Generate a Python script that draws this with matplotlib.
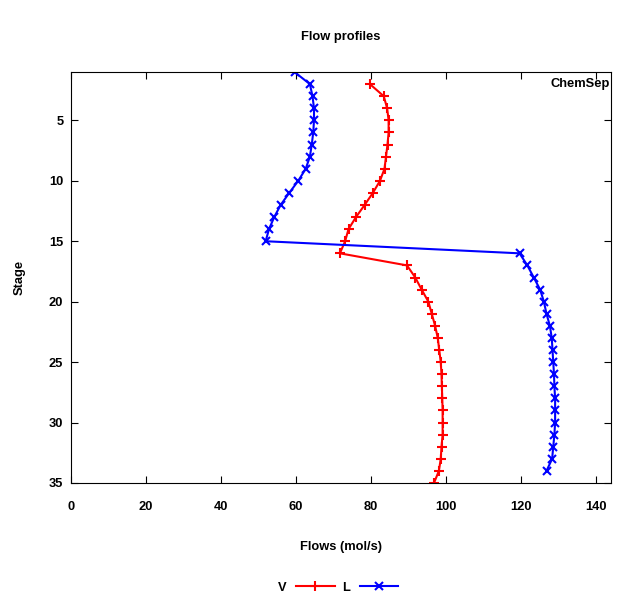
import matplotlib
matplotlib.use("Agg")
import matplotlib.pyplot as plt
from matplotlib.lines import Line2D

matplotlib.rc("font", family="Liberation Sans", weight="bold", size=9.3)
matplotlib.rc("axes", titleweight="bold", labelweight="bold",
              titlesize=9.3, labelsize=9.3)

# Vapour flow, stages 2..35
v_stages = list(range(2, 36))
v_flow = [79.7, 83.4, 84.3, 84.7, 84.7, 84.4, 84.0, 83.6, 82.4, 80.5,
          78.3, 76.0, 74.0, 73.1, 71.7, 89.6, 91.8, 93.5, 95.3, 96.2,
          97.1, 97.8, 98.2, 98.6, 98.8, 98.9, 99.0, 99.1, 99.1, 99.1,
          98.8, 98.6, 98.1, 96.8]

# Liquid flow, stages 1..34
l_stages = list(range(1, 35))
l_flow = [59.6, 63.7, 64.4, 64.8, 64.8, 64.6, 64.2, 63.7, 62.6, 60.6,
          58.2, 55.9, 54.2, 52.8, 51.9, 119.6, 121.7, 123.4, 125.1, 126.1,
          126.8, 127.7, 128.2, 128.4, 128.6, 128.8, 128.9, 129.1, 129.1, 129.1,
          128.9, 128.6, 128.3, 126.8]

x_ticks = [0, 20, 40, 60, 80, 100, 120, 140]
y_ticks = [5, 10, 15, 20, 25, 30, 35]


def draw():
    fig = plt.figure(figsize=(6.39, 6.05), dpi=100)
    ax = fig.add_axes([71 / 639, 1 - 483 / 605, 540 / 639, 411 / 605])

    ax.plot(v_flow, v_stages, color="#ff0000", lw=1.5, marker="+",
            ms=7, mew=1.5)
    ax.plot(l_flow, l_stages, color="#0000ff", lw=1.5, marker="x",
            ms=6, mew=1.5)

    ax.set_xlim(0, 144)
    ax.set_ylim(35, 1)
    ax.set_xticks(x_ticks)
    ax.set_yticks(y_ticks)
    ax.tick_params(direction="in", length=5, width=0.8, top=True,
                   right=True)
    ax.tick_params(axis="x", pad=13)
    ax.tick_params(axis="y", pad=5.5)
    for sp in ax.spines.values():
        sp.set_linewidth(0.8)

    ax.set_xlabel("Flows (mol/s)", labelpad=20)
    ax.set_ylabel("Stage", labelpad=17)
    ax.set_title("Flow profiles", pad=23)
    ax.text(0.997, 0.985, "ChemSep", transform=ax.transAxes,
            ha="right", va="top")

    handles = [
        Line2D([], [], color="#ff0000", lw=1.5, marker="+", ms=7, mew=1.5,
               label="V"),
        Line2D([], [], color="#0000ff", lw=1.5, marker="x", ms=6, mew=1.5,
               label="L"),
    ]
    fig.legend(handles=handles, loc="center", ncol=2, markerfirst=False,
               frameon=False, bbox_to_anchor=(0.529, 1 - 588 / 605),
               handlelength=3.0, columnspacing=0.55, handletextpad=0.75)

    fig.savefig("out.png", dpi=100)


draw()
